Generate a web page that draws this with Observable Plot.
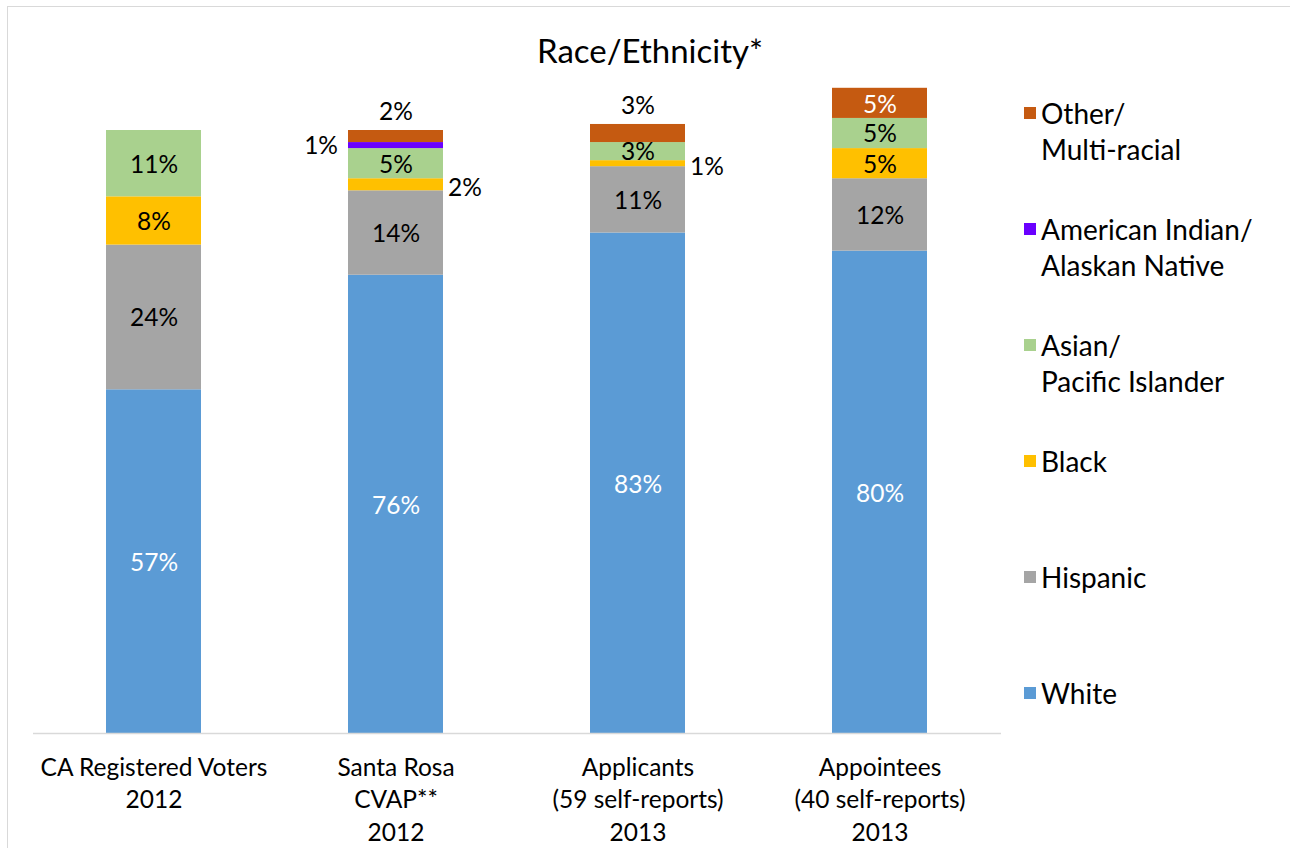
<!DOCTYPE html>
<html><head><meta charset="utf-8">
<script src="https://cdn.jsdelivr.net/npm/d3@7"></script>
<script src="https://cdn.jsdelivr.net/npm/@observablehq/plot@0.6"></script>
<style>
body{margin:0;background:#fff;font-family:Lato,sans-serif;color:#000;}
#wrap{position:relative;width:1290px;height:848px;overflow:hidden;}
#frame{position:absolute;left:7px;top:6px;width:1400px;height:1000px;border:1.5px solid #d9d9d9;box-sizing:border-box;}
#title{position:absolute;left:0;width:1300px;top:29px;text-align:center;font-size:33px;line-height:42px;}
#chart{position:absolute;left:0;top:0;}
#legend{position:absolute;left:1024px;top:0;}
.item{position:absolute;left:0;white-space:nowrap;font-size:28px;line-height:36px;}
.sw{position:absolute;left:0;top:12px;width:12px;height:12px;}
.lab{position:absolute;left:17px;top:0;}
</style></head>
<body>
<div id="wrap">
  <div id="frame"></div>
  <div id="chart"></div>
  <div id="title">Race/Ethnicity*</div>
  <div id="legend"></div>
</div>
<script>
const categories = ["CA Registered Voters\n2012", "Santa Rosa\nCVAP**\n2012", "Applicants\n(59 self-reports)\n2013", "Appointees\n(40 self-reports)\n2013"];
const series = ["White", "Hispanic", "Black", "Asian/Pacific Islander", "American Indian/Alaskan Native", "Other/Multi-racial"];
const legendLabels = ["White", "Hispanic", "Black", "Asian/\nPacific Islander", "American Indian/\nAlaskan Native", "Other/\nMulti-racial"];
const colors = ["#5b9bd5", "#a5a5a5", "#ffc000", "#a9d18e", "#6a00ff", "#c55a11"];
const white    = [57, 76, 83, 80];
const hispanic = [24, 14, 11, 12];
const black    = [8, 2, 1, 5];
const asian    = [11, 5, 3, 5];
const amIndian = [0, 1, 0, 0];
const other    = [0, 2, 3, 5];
const values = [white, hispanic, black, asian, amIndian, other];

// Build stacked rows
const rows = [];
categories.forEach((cat, ci) => {
  let acc = 0;
  series.forEach((s, si) => {
    const v = values[si][ci];
    if (v > 0) {
      let place = "inside";
      if (s === "Other/Multi-racial" && v <= 3) place = "above";
      else if (s === "American Indian/Alaskan Native" && v <= 2) place = "left";
      else if (v <= 2) place = "right";
      const light = (s === "White") || (s === "Other/Multi-racial" && place === "inside");
      rows.push({cat, series: s, v, y1: acc, y2: acc + v, mid: acc + v / 2, place, light, label: v + "%"});
    }
    acc += v;
  });
});

const fs = 24.5;
const font = {fontFamily: "Lato, sans-serif", fontSize: fs};
const chart = Plot.plot({
  width: 1001, height: 848,
  marginLeft: 33, marginRight: 0, marginTop: 130, marginBottom: 115,
  x: {domain: categories, paddingInner: 0.607, paddingOuter: 0.3035, align: 0.5, label: null},
  y: {domain: [0, 100], axis: null},
  color: {domain: series, range: colors},
  style: {fontFamily: "Lato, sans-serif", fontSize: fs + "px", color: "#000", background: "transparent", overflow: "visible"},
  marks: [
    Plot.barY(rows, {x: "cat", y1: "y1", y2: "y2", fill: "series"}),
    Plot.ruleY([0], {stroke: "#d9d9d9", strokeWidth: 1.5}),
    Plot.axisX({tickSize: 0, tickPadding: 19, fontSize: fs, lineHeight: 1.33, tickFormat: d => d, fill: "#000", label: null}),
    Plot.text(rows, {filter: d => d.place === "inside" && d.light, x: "cat", y: "mid", dy: 2, text: "label", fill: "#fff", ...font}),
    Plot.text(rows, {filter: d => d.place === "inside" && !d.light, x: "cat", y: "mid", dy: 1, text: "label", fill: "#000", ...font}),
    Plot.text(rows, {filter: d => d.place === "above", x: "cat", y: "y2", dy: -18, text: "label", fill: "#000", ...font}),
    Plot.text(rows, {filter: d => d.place === "left", x: "cat", y: "mid", dx: -58, dy: 1, textAnchor: "end", text: "label", fill: "#000", ...font}),
    Plot.text(rows, {filter: d => d.place === "right", x: "cat", y: "mid", dx: 52, dy: 3, textAnchor: "start", text: "label", fill: "#000", ...font})
  ]
});
document.getElementById("chart").appendChild(chart);

// Legend (top to bottom: reverse stack order)
const legend = document.getElementById("legend");
const order = series.map((s, i) => i).reverse();
order.forEach((si, k) => {
  const item = document.createElement("div");
  item.className = "item";
  item.style.top = (95 + 116 * k) + "px";
  const sw = document.createElement("div");
  sw.className = "sw";
  sw.style.background = colors[si];
  const lab = document.createElement("div");
  lab.className = "lab";
  lab.innerHTML = legendLabels[si].split("\n").join("<br>");
  item.appendChild(sw);
  item.appendChild(lab);
  legend.appendChild(item);
});
</script>
</body></html>
